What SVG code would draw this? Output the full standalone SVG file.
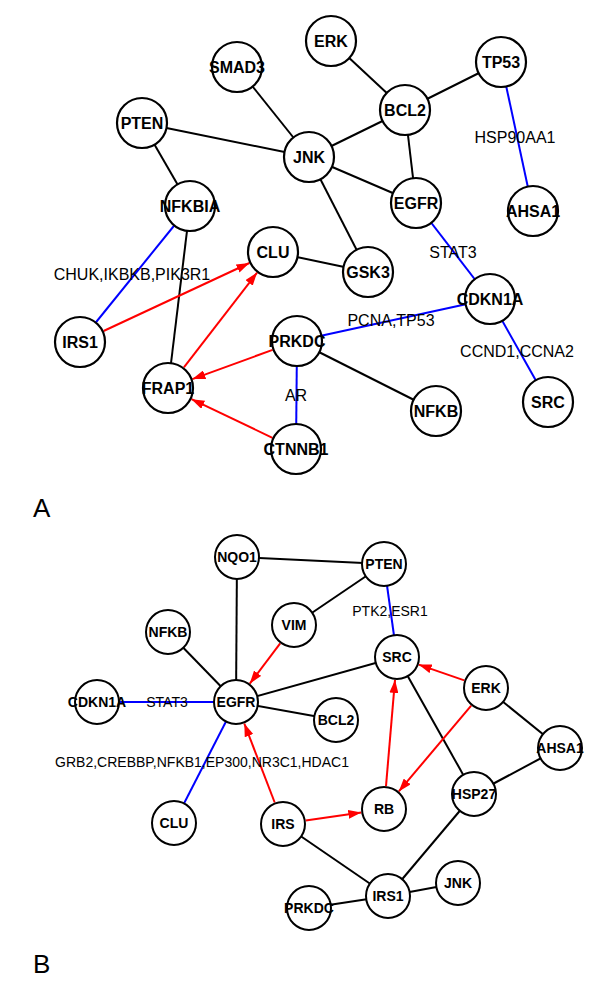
<svg xmlns="http://www.w3.org/2000/svg" width="600" height="988" viewBox="0 0 600 988">
<style>
.bg{fill:#fff}
.e{stroke:#000;stroke-width:2;fill:none}
.b{stroke:#0000ff;stroke-width:2;fill:none}
.r{stroke:#ff0000;stroke-width:2;fill:none}
.na circle{fill:#fff;stroke:#000;stroke-width:2.2}
.nb circle{fill:#fff;stroke:#000;stroke-width:2}
.na text{font-family:"Liberation Sans",Arial,sans-serif;font-weight:bold;font-size:16px;text-anchor:middle}
.nb text{font-family:"Liberation Sans",Arial,sans-serif;font-weight:bold;font-size:14px;text-anchor:middle}
.la{font-family:"Liberation Sans",Arial,sans-serif;font-size:16px;text-anchor:middle}
.lb{font-family:"Liberation Sans",Arial,sans-serif;font-size:14px;text-anchor:middle}
.pl{font-family:"Liberation Sans",Arial,sans-serif;font-size:26px}
</style>
<defs>
<marker id="ar" markerWidth="13" markerHeight="9" refX="13" refY="4.5" orient="auto" markerUnits="userSpaceOnUse">
<path d="M0,0 L13,4.5 L0,9 Z" fill="#ff0000"/>
</marker>
</defs>
<rect class="bg" x="0" y="0" width="600" height="988"/>
<g id="connectors">
<!-- Panel A -->
<line class="e" x1="237" y1="67" x2="309" y2="157"/>
<line class="e" x1="142" y1="123" x2="309" y2="157"/>
<line class="e" x1="142" y1="123" x2="190" y2="206"/>
<line class="e" x1="331" y1="41" x2="405" y2="110"/>
<line class="e" x1="405" y1="110" x2="501" y2="62"/>
<line class="e" x1="405" y1="110" x2="309" y2="157"/>
<line class="e" x1="405" y1="110" x2="416" y2="203"/>
<line class="e" x1="309" y1="157" x2="416" y2="203"/>
<line class="e" x1="309" y1="157" x2="368" y2="272"/>
<line class="e" x1="273" y1="252" x2="368" y2="272"/>
<line class="b" x1="501" y1="62" x2="533" y2="211"/>
<line class="b" x1="416" y1="203" x2="490" y2="299"/>
<line class="b" x1="190" y1="206" x2="80" y2="342"/>
<line class="e" x1="190" y1="206" x2="168" y2="388"/>
<line class="b" x1="297" y1="341" x2="490" y2="299"/>
<line class="e" x1="297" y1="341" x2="436" y2="411"/>
<line class="b" x1="297" y1="341" x2="296" y2="449"/>
<line class="b" x1="490" y1="299" x2="548" y2="402"/>
<line class="r" x1="103.6" y1="331" x2="249.4" y2="263" marker-end="url(#ar)"/>
<line class="r" x1="183.9" y1="367.4" x2="257.1" y2="272.6" marker-end="url(#ar)"/>
<line class="r" x1="272.6" y1="349.9" x2="192.4" y2="379.1" marker-end="url(#ar)"/>
<line class="r" x1="272.5" y1="437.8" x2="191.5" y2="399.2" marker-end="url(#ar)"/>
<!-- Panel B -->
<line class="e" x1="237" y1="557" x2="384" y2="564"/>
<line class="e" x1="237" y1="557" x2="236" y2="702"/>
<line class="e" x1="384" y1="564" x2="294" y2="625"/>
<line class="b" x1="384" y1="564" x2="397" y2="657"/>
<line class="e" x1="168" y1="632" x2="236" y2="702"/>
<line class="b" x1="97" y1="702" x2="236" y2="702"/>
<line class="e" x1="236" y1="702" x2="397" y2="657"/>
<line class="e" x1="236" y1="702" x2="336" y2="720"/>
<line class="b" x1="236" y1="702" x2="174" y2="823"/>
<line class="e" x1="486" y1="688" x2="560" y2="748"/>
<line class="e" x1="397" y1="657" x2="474" y2="794"/>
<line class="e" x1="560" y1="748" x2="474" y2="794"/>
<line class="e" x1="474" y1="794" x2="388" y2="896"/>
<line class="e" x1="283" y1="824" x2="388" y2="896"/>
<line class="e" x1="388" y1="896" x2="458" y2="883"/>
<line class="e" x1="388" y1="896" x2="309" y2="908"/>
<line class="r" x1="280.2" y1="643.4" x2="249.8" y2="683.6" marker-end="url(#ar)"/>
<line class="r" x1="274.7" y1="802.5" x2="244.3" y2="723.5" marker-end="url(#ar)"/>
<line class="r" x1="305.7" y1="820.6" x2="361.3" y2="812.4" marker-end="url(#ar)"/>
<line class="r" x1="386" y1="786.1" x2="395" y2="679.9" marker-end="url(#ar)"/>
<line class="r" x1="464.3" y1="680.4" x2="418.7" y2="664.6" marker-end="url(#ar)"/>
<line class="r" x1="471.2" y1="705.6" x2="398.8" y2="791.4" marker-end="url(#ar)"/>
</g>
<g id="edge-labels">
<text class="la" x="515" y="143">HSP90AA1</text>
<text class="la" x="453" y="258">STAT3</text>
<text class="la" x="132" y="280">CHUK,IKBKB,PIK3R1</text>
<text class="la" x="391" y="326">PCNA,TP53</text>
<text class="la" x="517" y="357">CCND1,CCNA2</text>
<text class="la" x="296" y="401">AR</text>
<text class="lb" x="390" y="616">PTK2,ESR1</text>
<text class="lb" x="167" y="707">STAT3</text>
<text class="lb" x="202" y="767">GRB2,CREBBP,NFKB1,EP300,NR3C1,HDAC1</text>
</g>
<g id="A-SMAD3" class="na"><circle cx="237" cy="67" r="25"/><text x="237" y="72.5">SMAD3</text></g>
<g id="A-PTEN" class="na"><circle cx="142" cy="123" r="25"/><text x="142" y="128.5">PTEN</text></g>
<g id="A-NFKBIA" class="na"><circle cx="190" cy="206" r="25"/><text x="190" y="211.5">NFKBIA</text></g>
<g id="A-JNK" class="na"><circle cx="309" cy="157" r="25"/><text x="309" y="162.5">JNK</text></g>
<g id="A-ERK" class="na"><circle cx="331" cy="41" r="25"/><text x="331" y="46.5">ERK</text></g>
<g id="A-BCL2" class="na"><circle cx="405" cy="110" r="25"/><text x="405" y="115.5">BCL2</text></g>
<g id="A-TP53" class="na"><circle cx="501" cy="62" r="25"/><text x="501" y="67.5">TP53</text></g>
<g id="A-EGFR" class="na"><circle cx="416" cy="203" r="25"/><text x="416" y="208.5">EGFR</text></g>
<g id="A-AHSA1" class="na"><circle cx="533" cy="211" r="25"/><text x="533" y="216.5">AHSA1</text></g>
<g id="A-CLU" class="na"><circle cx="273" cy="252" r="25"/><text x="273" y="257.5">CLU</text></g>
<g id="A-GSK3" class="na"><circle cx="368" cy="272" r="25"/><text x="368" y="277.5">GSK3</text></g>
<g id="A-CDKN1A" class="na"><circle cx="490" cy="299" r="25"/><text x="490" y="304.5">CDKN1A</text></g>
<g id="A-IRS1" class="na"><circle cx="80" cy="342" r="25"/><text x="80" y="347.5">IRS1</text></g>
<g id="A-PRKDC" class="na"><circle cx="297" cy="341" r="25"/><text x="297" y="346.5">PRKDC</text></g>
<g id="A-FRAP1" class="na"><circle cx="168" cy="388" r="25"/><text x="168" y="393.5">FRAP1</text></g>
<g id="A-NFKB" class="na"><circle cx="436" cy="411" r="25"/><text x="436" y="416.5">NFKB</text></g>
<g id="A-SRC" class="na"><circle cx="548" cy="402" r="25"/><text x="548" y="407.5">SRC</text></g>
<g id="A-CTNNB1" class="na"><circle cx="296" cy="449" r="25"/><text x="296" y="454.5">CTNNB1</text></g>
<g id="B-NQO1" class="nb"><circle cx="237" cy="557" r="22"/><text x="237" y="562">NQO1</text></g>
<g id="B-PTEN" class="nb"><circle cx="384" cy="564" r="22"/><text x="384" y="569">PTEN</text></g>
<g id="B-NFKB" class="nb"><circle cx="168" cy="632" r="22"/><text x="168" y="637">NFKB</text></g>
<g id="B-VIM" class="nb"><circle cx="294" cy="625" r="22"/><text x="294" y="630">VIM</text></g>
<g id="B-SRC" class="nb"><circle cx="397" cy="657" r="22"/><text x="397" y="662">SRC</text></g>
<g id="B-ERK" class="nb"><circle cx="486" cy="688" r="22"/><text x="486" y="693">ERK</text></g>
<g id="B-CDKN1A" class="nb"><circle cx="97" cy="702" r="22"/><text x="97" y="707">CDKN1A</text></g>
<g id="B-EGFR" class="nb"><circle cx="236" cy="702" r="22"/><text x="236" y="707">EGFR</text></g>
<g id="B-BCL2" class="nb"><circle cx="336" cy="720" r="22"/><text x="336" y="725">BCL2</text></g>
<g id="B-AHSA1" class="nb"><circle cx="560" cy="748" r="22"/><text x="560" y="753">AHSA1</text></g>
<g id="B-HSP27" class="nb"><circle cx="474" cy="794" r="22"/><text x="474" y="799">HSP27</text></g>
<g id="B-RB" class="nb"><circle cx="384" cy="809" r="22"/><text x="384" y="814">RB</text></g>
<g id="B-CLU" class="nb"><circle cx="174" cy="823" r="22"/><text x="174" y="828">CLU</text></g>
<g id="B-IRS" class="nb"><circle cx="283" cy="824" r="22"/><text x="283" y="829">IRS</text></g>
<g id="B-IRS1" class="nb"><circle cx="388" cy="896" r="22"/><text x="388" y="901">IRS1</text></g>
<g id="B-JNK" class="nb"><circle cx="458" cy="883" r="22"/><text x="458" y="888">JNK</text></g>
<g id="B-PRKDC" class="nb"><circle cx="309" cy="908" r="22"/><text x="309" y="913">PRKDC</text></g>
<text class="pl" x="33" y="517">A</text>
<text class="pl" x="33" y="973">B</text>
</svg>
